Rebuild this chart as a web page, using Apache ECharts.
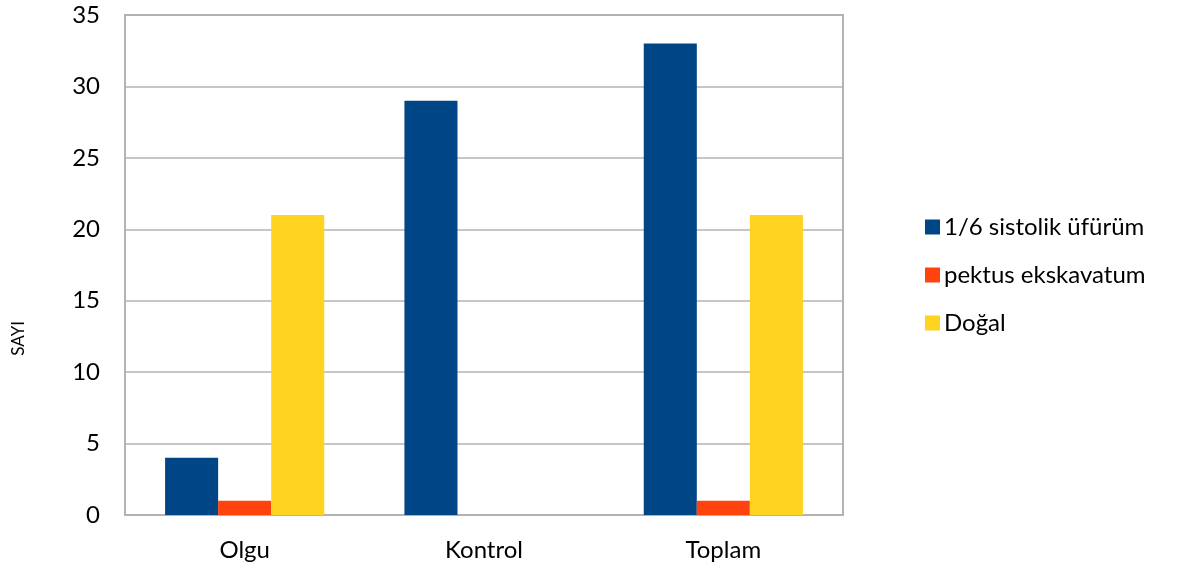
<!DOCTYPE html>
<html>
<head>
<meta charset="utf-8">
<script src="https://cdn.jsdelivr.net/npm/echarts@6/dist/echarts.min.js"></script>
<style>
  html, body { margin: 0; padding: 0; background: #fff; }
  #chart { width: 1177px; height: 570px; }
</style>
</head>
<body>
<div id="chart"></div>
<script>
// Groups on the x axis
const categories = ['Olgu', 'Kontrol', 'Toplam'];

// Counts per finding
const sistolikUfurum = [4, 29, 33];
const pektusEkskavatum = [1, 0, 1];
const dogal = [21, 0, 21];

const seriesNames = ['1/6 sistolik üfürüm', 'pektus ekskavatum', 'Doğal'];
const seriesColors = ['#004586', '#ff420e', '#ffd320'];

const FONT = 'Lato, "Liberation Sans", sans-serif';
const GRID_COLOR = '#b3b3b3';

const chart = echarts.init(document.getElementById('chart'), null, { renderer: 'canvas' });

const values = [sistolikUfurum, pektusEkskavatum, dogal];

chart.setOption({
  animation: false,
  backgroundColor: '#ffffff',
  textStyle: { fontFamily: FONT },
  grid: {
    left: 125, right: 334, top: 15, bottom: 55,
    show: true, borderColor: GRID_COLOR, borderWidth: 2, backgroundColor: 'transparent'
  },
  legend: {
    orient: 'vertical',
    left: 920,
    top: 210,
    itemWidth: 15,
    itemHeight: 15,
    itemGap: 24,
    icon: 'rect',
    textStyle: { fontFamily: FONT, fontSize: 24, color: '#000', lineHeight: 24, padding: [0, 0, 0, -1] },
    data: seriesNames
  },
  xAxis: {
    type: 'category',
    data: categories,
    axisLine: { show: true, lineStyle: { color: GRID_COLOR, width: 2 } },
    axisTick: { show: false },
    axisLabel: { fontFamily: FONT, fontSize: 24, color: '#000', margin: 23 }
  },
  yAxis: {
    type: 'value',
    min: 0, max: 35, interval: 5,
    axisLine: { show: true, lineStyle: { color: GRID_COLOR, width: 2 } },
    axisTick: { show: false },
    axisLabel: { fontFamily: FONT, fontSize: 24, color: '#000', margin: 25 },
    splitLine: { show: true, lineStyle: { color: GRID_COLOR, width: 1.5 } }
  },
  graphic: [{
    type: 'text',
    left: 10,
    top: 321,
    rotation: Math.PI / 2,
    style: { text: 'SAYI', fontFamily: FONT, fontSize: 17, fill: '#000' }
  }],
  series: seriesNames.map((name, i) => ({
    name: name,
    type: 'bar',
    data: values[i],
    barGap: '0%',
    barCategoryGap: '33.5%',
    itemStyle: { color: seriesColors[i] }
  }))
});
</script>
</body>
</html>
